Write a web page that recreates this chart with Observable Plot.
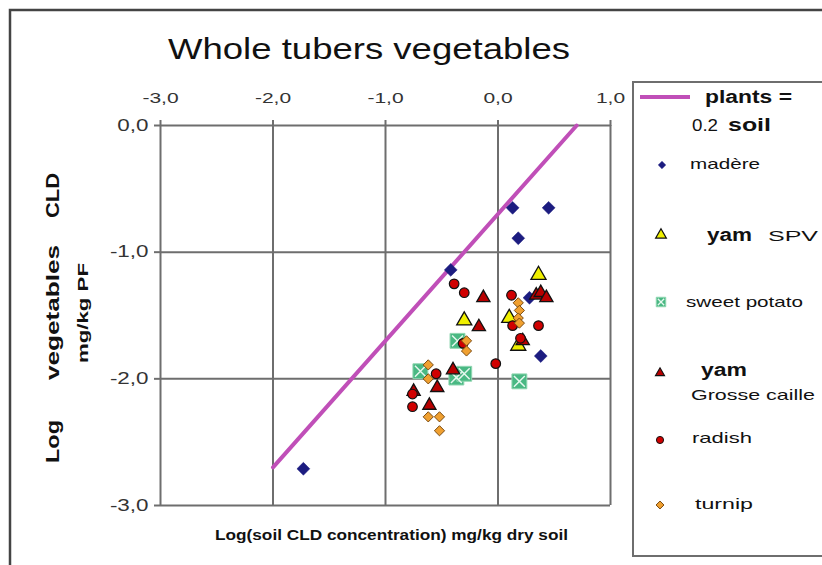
<!DOCTYPE html>
<html><head><meta charset="utf-8">
<script src="https://cdn.jsdelivr.net/npm/d3@7"></script>
<script src="https://cdn.jsdelivr.net/npm/@observablehq/plot@0.6"></script>
<style>body{margin:0;background:#fff;} svg{display:block;}</style>
</head><body><div id="chart"></div>
<script>
// ---- data (log10 soil CLD, log10 vegetable CLD) ----
const xTicks = [-3, -2, -1, 0, 1];
const yTicks = [0, -1, -2, -3];

const madereX = [0.13, 0.45, 0.18, -0.42, 0.28, 0.38, -1.73];
const madereY = [-0.65, -0.65, -0.89, -1.14, -1.36, -1.82, -2.71];

const yamSpvX = [0.36, -0.30, 0.10, 0.18];
const yamSpvY = [-1.18, -1.54, -1.52, -1.74];

const sweetPotatoX = [-0.69, -0.37, -0.30, -0.36, 0.19];
const sweetPotatoY = [-1.94, -1.99, -1.96, -1.70, -2.02];

const yamGcX = [-0.13, -0.17, -0.40, -0.54, -0.61, -0.75, 0.34, 0.38, 0.43, 0.22];
const yamGcY = [-1.36, -1.59, -1.93, -2.07, -2.21, -2.10, -1.34, -1.32, -1.36, -1.70];

const radishX = [-0.39, -0.30, 0.12, 0.36, -0.02, -0.31, -0.55, -0.76, -0.76, 0.13, 0.20];
const radishY = [-1.25, -1.32, -1.34, -1.58, -1.88, -1.72, -1.96, -2.12, -2.22, -1.58, -1.68];

const turnipX = [-0.62, -0.62, -0.62, -0.52, -0.52, -0.28, -0.28, 0.18, 0.19, 0.18, 0.19];
const turnipY = [-1.89, -2.00, -2.30, -2.30, -2.41, -1.78, -1.70, -1.40, -1.46, -1.52, -1.56];

// reference line: plants = 0.2 soil  (log plant = log 0.2 + log soil)
const ratio = 0.2;
const lineSoil = [-2.0, -Math.log10(ratio)];

// ---- build ----
const toRows = (xs, ys) => xs.map((x, i) => ({x, y: ys[i]}));
const madere = toRows(madereX, madereY);
const yamSpv = toRows(yamSpvX, yamSpvY);
const sweetPotato = toRows(sweetPotatoX, sweetPotatoY);
const yamGc = toRows(yamGcX, yamGcY);
const radish = toRows(radishX, radishY);
const turnip = toRows(turnipX, turnipY);
const lineRows = lineSoil.map(x => ({x, y: x + Math.log10(ratio)}));

const fmt = d => d.toFixed(1).replace(".", ",");
const FONT = "'Liberation Sans', Arial, sans-serif";
const GRID = "#6e6e6e";

const svg = Plot.plot({
  width: 822, height: 565,
  marginLeft: 160, marginRight: 212, marginTop: 125, marginBottom: 60,
  style: {fontFamily: FONT, fontSize: "15px", color: "#333", background: "#fff"},
  x: {domain: [-3, 1]},
  y: {domain: [-3, 0]},
  marks: [
    Plot.ruleX(xTicks, {stroke: GRID, strokeWidth: 2}),
    Plot.ruleY(yTicks, {stroke: GRID, strokeWidth: 2}),
    Plot.axisX({anchor: "top", ticks: xTicks, tickFormat: fmt, tickSize: 6, tickPadding: 17, label: null, stroke: GRID, strokeWidth: 2, fontSize: 15}),
    Plot.axisY({anchor: "left", ticks: yTicks, tickFormat: fmt, tickSize: 6, tickPadding: 6, label: null, stroke: GRID, strokeWidth: 2, fontSize: 16}),
    Plot.line(lineRows, {x: "x", y: "y", stroke: "#c04fb8", strokeWidth: 4}),
    Plot.dot(sweetPotato, {x: "x", y: "y", symbol: "square", r: 8.4, fill: "#49b883", stroke: "#8fd6b0", strokeWidth: 1}),
    Plot.dot(sweetPotato, {x: "x", y: "y", symbol: "times", r: 5, fill: "none", stroke: "#e6f7ee", strokeWidth: 1.5}),
    Plot.dot(madere, {x: "x", y: "y", symbol: "diamond2", r: 5.8, fill: "#1c1c80", stroke: "#1c1c80", strokeWidth: 0.5}),
    Plot.dot(yamSpv, {x: "x", y: "y", symbol: "triangle", r: 5.6, fill: "#f0f000", stroke: "#111", strokeWidth: 1.3}),
    Plot.dot(yamGc, {x: "x", y: "y", symbol: "triangle", r: 4.9, fill: "#b80000", stroke: "#111", strokeWidth: 1.3}),
    Plot.dot(radish, {x: "x", y: "y", symbol: "circle", r: 4.8, fill: "#d00000", stroke: "#111", strokeWidth: 1.2}),
    Plot.dot(turnip, {x: "x", y: "y", symbol: "diamond2", r: 4.6, fill: "#f0a030", stroke: "#7a4a10", strokeWidth: 1})
  ]
});
document.getElementById("chart").appendChild(svg);

const s = d3.select(svg);
s.selectAll("text").attr("fill", null);

// stretch axis tick labels horizontally (reference is a widened image)
s.selectAll("g[aria-label='x-axis tick label'] text, g[aria-label='y-axis tick label'] text").each(function() {
  const w = this.getComputedTextLength();
  d3.select(this).attr("textLength", w * 1.4).attr("lengthAdjust", "spacingAndGlyphs");
});

// outer frame
s.append("rect").attr("x", 10).attr("y", 10).attr("width", 840).attr("height", 600)
  .attr("fill", "none").attr("stroke", "#444").attr("stroke-width", 2.5);

const txt = (x, y, str, size, bold, len) => {
  const t = s.append("text").attr("x", x).attr("y", y).text(str)
    .attr("font-family", FONT).attr("font-size", size).attr("fill", "#111")
    .attr("text-anchor", "start")
    .attr("font-weight", bold ? "bold" : "normal");
  if (len) t.attr("textLength", len).attr("lengthAdjust", "spacingAndGlyphs");
  return t;
};

// title
txt(168, 59, "Whole tubers vegetables", 30, false, 402);
// x axis title
txt(215, 540, "Log(soil CLD concentration) mg/kg dry soil", 15, true, 353);
// y axis title (rotated)
const rot = (x, y, str, size, len) => s.append("text")
  .attr("transform", `translate(${x},${y}) rotate(-90)`).text(str)
  .attr("text-anchor", "start")
  .attr("font-family", FONT).attr("font-size", size).attr("font-weight", "bold").attr("fill", "#111")
  .attr("textLength", len).attr("lengthAdjust", "spacingAndGlyphs");
rot(59, 463, "Log", 19, 43);
rot(59, 380, "vegetables", 19, 135);
rot(59, 218, "CLD", 19, 45);
rot(88, 363, "mg/kg PF", 15, 100);

// legend
s.append("rect").attr("x", 633).attr("y", 82).attr("width", 220).attr("height", 474)
  .attr("fill", "#fff").attr("stroke", GRID).attr("stroke-width", 2);
s.append("line").attr("x1", 640).attr("x2", 690).attr("y1", 97).attr("y2", 97)
  .attr("stroke", "#c04fb8").attr("stroke-width", 4);
txt(705, 103, "plants =", 18, true, 87);
txt(692, 131, "0.2", 16, false, 26);
txt(728, 131, "soil", 18, true, 43);

const sym = (type, x, y, size, fill, stroke, sw) => s.append("path")
  .attr("d", d3.symbol(type, size)()).attr("transform", `translate(${x},${y})`)
  .attr("fill", fill).attr("stroke", stroke).attr("stroke-width", sw);

sym(d3.symbolDiamond2, 662, 165, 36, "#1c1c80", "#1c1c80", 0.5);
txt(690, 169, "madère", 15, false, 70);

sym(d3.symbolTriangle, 661, 235, 50, "#f0f000", "#111", 1.2);
txt(707, 241, "yam", 18, true, 45);
txt(768, 241, "SPV", 15, false, 50);

sym(d3.symbolSquare, 661, 302, 90, "#49b883", "#8fd6b0", 1);
sym(d3.symbolTimes, 661, 302, 28, "none", "#e6f7ee", 1.3);
txt(686, 307, "sweet potato", 15, false, 117);

sym(d3.symbolTriangle, 660, 373, 36, "#b80000", "#111", 1.1);
txt(701, 376, "yam", 18, true, 46);
txt(691, 400, "Grosse caille", 15, false, 124);

sym(d3.symbolCircle, 660, 440, 40, "#d00000", "#111", 1);
txt(692, 443, "radish", 15, false, 60);

sym(d3.symbolDiamond2, 660, 505, 40, "#f0a030", "#7a4a10", 1);
txt(695, 509, "turnip", 15, false, 58);
</script>
</body></html>
